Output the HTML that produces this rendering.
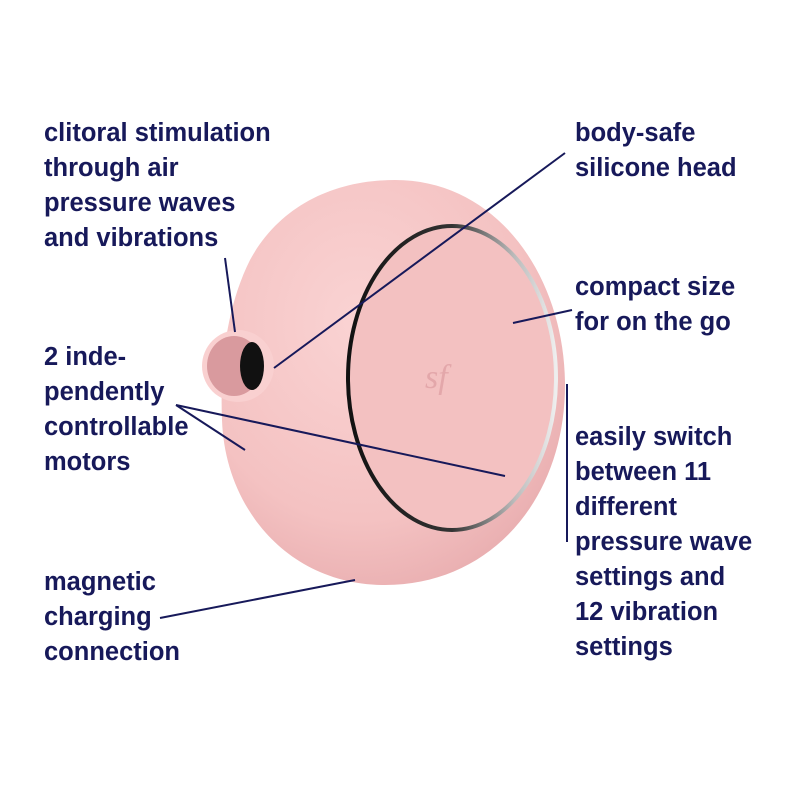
<!DOCTYPE html>
<html><head><style>
body{margin:0;width:800px;height:800px;background:#fff;overflow:hidden;position:relative;font-family:"Liberation Sans",sans-serif;}
.t{position:absolute;color:#17195a;font-weight:bold;font-size:25.5px;line-height:35px;white-space:nowrap;}
svg{position:absolute;left:0;top:0}
</style></head><body>
<svg width="800" height="800">
<defs>
<radialGradient id="bg" cx="0.4" cy="0.35" r="0.7">
<stop offset="0" stop-color="#fad3d3"/><stop offset="0.7" stop-color="#f4c2c2"/><stop offset="1" stop-color="#e9aeb0"/>
</radialGradient>
<linearGradient id="ring" x1="0" y1="0" x2="1" y2="0">
<stop offset="0" stop-color="#111"/><stop offset="0.5" stop-color="#333"/><stop offset="0.8" stop-color="#bbb"/><stop offset="1" stop-color="#eee"/>
</linearGradient>
</defs>
<path d="M395,180 C500,180 565,280 565,385 C565,500 490,585 385,585 C290,585 225,510 222,420 C220,370 225,310 250,260 C280,205 335,180 395,180 Z" fill="url(#bg)"/>
<ellipse cx="452" cy="378" rx="104" ry="152" fill="#f3c1c1"/>
<ellipse cx="452" cy="378" rx="104" ry="152" fill="none" stroke="url(#ring)" stroke-width="4"/>
<circle cx="238" cy="366" r="36" fill="#f9d0d0"/>
<ellipse cx="234" cy="366" rx="27" ry="30" fill="#d99a9e"/>
<ellipse cx="252" cy="366" rx="12" ry="24" fill="#111"/>
<text x="425" y="388" font-family="Liberation Serif" font-size="34" font-style="italic" fill="#e3a7aa">sf</text>
<g stroke="#17195a" stroke-width="2" fill="none">
<line x1="565" y1="153" x2="274" y2="368"/>
<line x1="225" y1="258" x2="235" y2="332"/>
<line x1="572" y1="310" x2="513" y2="323"/>
<line x1="176" y1="405" x2="505" y2="476"/>
<line x1="176" y1="405" x2="245" y2="450"/>
<line x1="567" y1="384" x2="567" y2="542"/>
<line x1="160" y1="618" x2="355" y2="580"/>
</g>
</svg>
<div class="t" style="left:44px;top:116px">clitoral stimulation<br>through air<br>pressure waves<br>and vibrations</div>
<div class="t" style="left:44px;top:340px">2 inde-<br>pendently<br>controllable<br>motors</div>
<div class="t" style="left:44px;top:565px">magnetic<br>charging<br>connection</div>
<div class="t" style="left:575px;top:116px">body-safe<br>silicone head</div>
<div class="t" style="left:575px;top:270px">compact size<br>for on the go</div>
<div class="t" style="left:575px;top:420px">easily switch<br>between 11<br>different<br>pressure wave<br>settings and<br>12 vibration<br>settings</div>
</body></html>
